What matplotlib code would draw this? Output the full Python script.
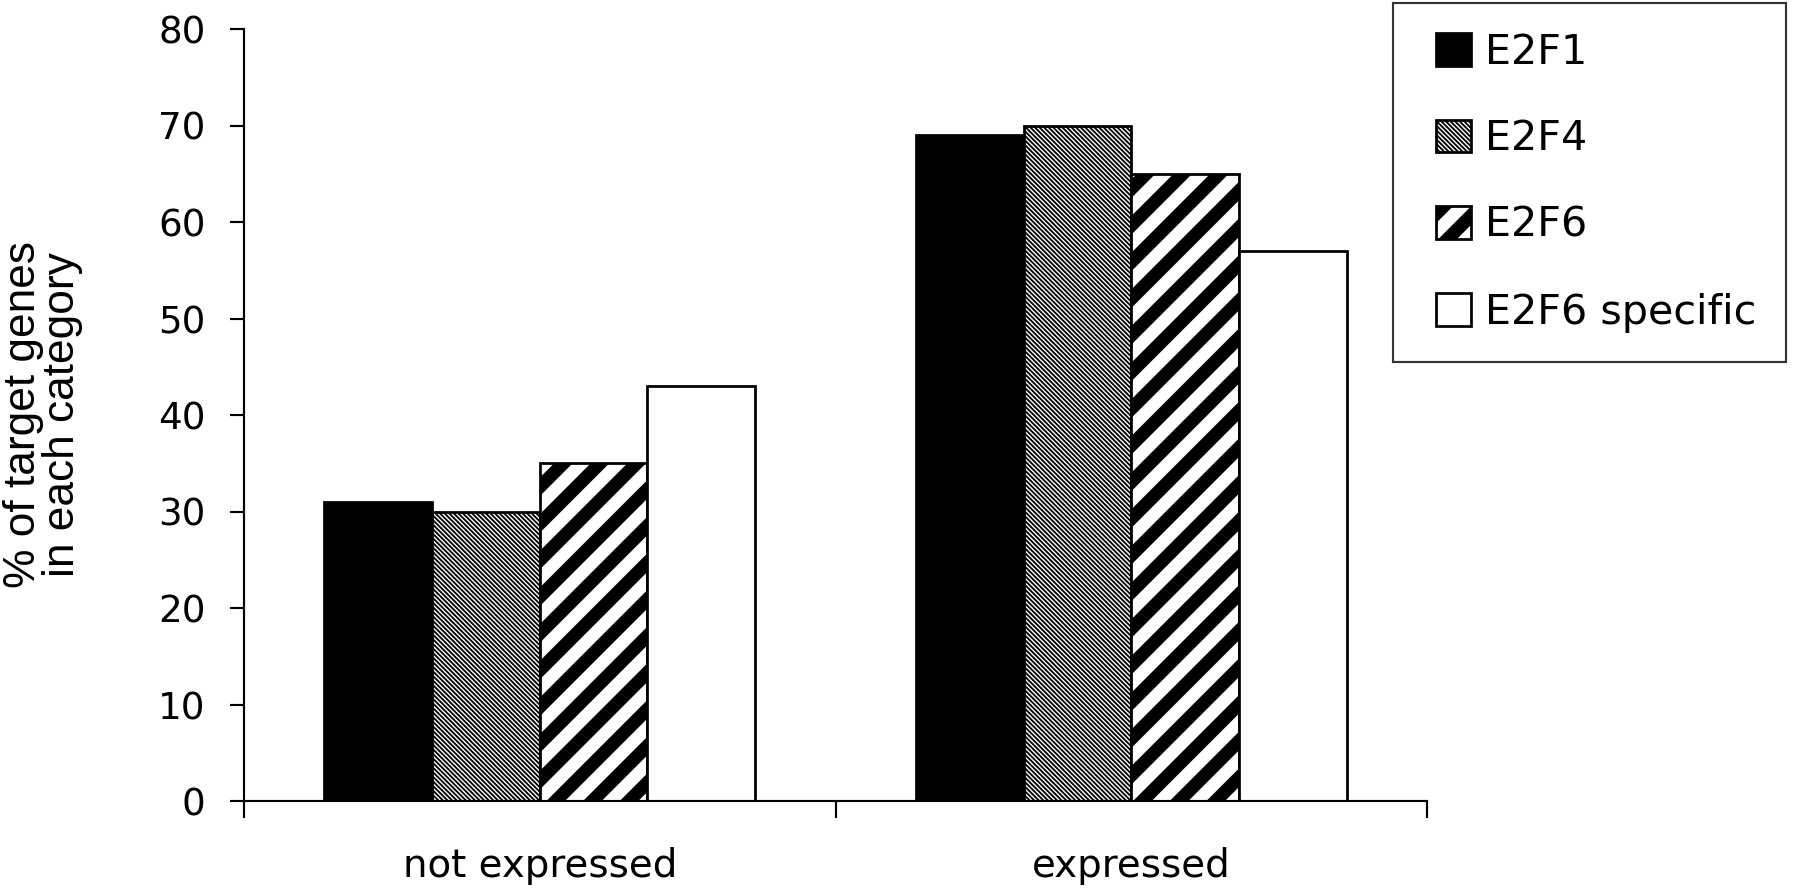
import numpy as np
import matplotlib
matplotlib.use("Agg")
import matplotlib.pyplot as plt
from matplotlib.ticker import FixedLocator
from matplotlib.patches import Rectangle
from matplotlib.container import BarContainer
from matplotlib.legend_handler import HandlerPatch, update_from_first_child

# values
categories = ["not expressed", "expressed"]
series = ["E2F1", "E2F4", "E2F6", "E2F6 specific"]
e2f1 = [31, 69]
e2f4 = [30, 70]
e2f6 = [35, 65]
e2f6_specific = [43, 57]
yticks = [0, 10, 20, 30, 40, 50, 60, 70, 80]

DPI = 220
plt.rcParams['font.family'] = ['DejaVu Sans']
plt.rcParams['hatch.color'] = 'black'

fig = plt.figure(figsize=(1800 / DPI, 888 / DPI), dpi=DPI)
ax = fig.add_axes([244 / 1800, 1 - 801 / 888, (1427 - 244) / 1800, (801 - 29) / 888])

x = np.arange(len(categories))
w = 0.182
styles = [
    dict(color='black', hatch=None, hlw=1.0),
    dict(color='white', hatch='\\' * 16, hlw=0.6),
    dict(color='white', hatch='//', hlw=4.3),
    dict(color='white', hatch=None, hlw=1.0),
]
values = [e2f1, e2f4, e2f6, e2f6_specific]

for i, (name, vals, st) in enumerate(zip(series, values, styles)):
    plt.rcParams['hatch.linewidth'] = st['hlw']
    bars = ax.bar(x + (i - 1.5) * w, vals, w, label=name, facecolor=st['color'],
                  edgecolor='black', linewidth=0.9, hatch=st['hatch'], zorder=2)
    for b in bars:
        if hasattr(b, 'set_hatch_linewidth'):
            b.set_hatch_linewidth(st['hlw'])

ax.set_xlim(-0.5, 1.5)
ax.set_ylim(0, 80)
ax.set_yticks(yticks)
ax.set_xticks(x)
ax.set_xticklabels(categories, fontsize=12.7)
ax.xaxis.set_minor_locator(FixedLocator([-0.5, 0.5, 1.5]))
ax.tick_params(axis='x', which='major', length=0, pad=15)
ax.tick_params(axis='x', which='minor', length=5.5, width=0.7, direction='out')
ax.tick_params(axis='y', length=4.6, width=0.7, direction='out', pad=8, labelsize=12.2)

for s in ['top', 'right']:
    ax.spines[s].set_visible(False)
for s in ['left', 'bottom']:
    ax.spines[s].set_linewidth(0.7)

ax.set_ylabel("% of target genes\nin each category", family=['Liberation Sans', 'DejaVu Sans'],
              fontsize=14.5, linespacing=0.95, va='center')
ax.yaxis.set_label_coords(-0.170, 0.5)


# square legend keys pushed a little to the right inside the key box
def shifted_square(legend, orig_handle, xdescent, ydescent, width, height, fontsize):
    off = 0.32 * fontsize
    return Rectangle((-xdescent + off, -ydescent), width - off, height)


leg = fig.legend(loc='upper left', bbox_to_anchor=(1393 / 1800, 0, (1786 - 1393) / 1800, 1 - 3 / 888),
                 mode='expand', fontsize=13.5, frameon=True, fancybox=False,
                 edgecolor='black', handlelength=0.85 + 0.32, handleheight=0.85,
                 handletextpad=0.35, labelspacing=1.13, borderpad=0.72, borderaxespad=0,
                 handler_map={BarContainer: HandlerPatch(patch_func=shifted_square,
                                                         update_func=update_from_first_child)})
leg.get_frame().set_linewidth(0.7)
for h, st in zip(leg.legend_handles, styles):
    if hasattr(h, 'set_hatch_linewidth'):
        h.set_hatch_linewidth(st['hlw'])

fig.savefig("out.png", dpi=DPI, facecolor='white')
